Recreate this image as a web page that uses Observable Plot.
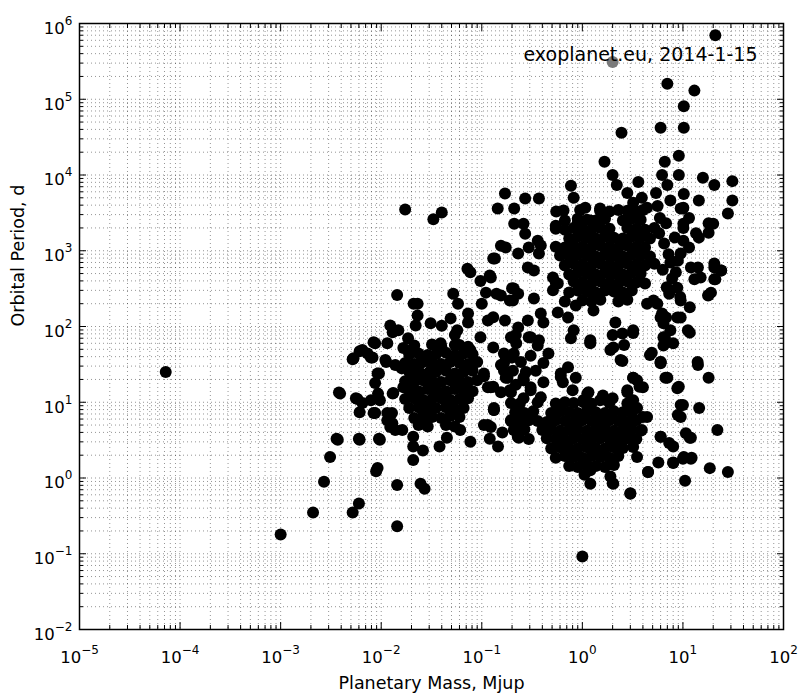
<!DOCTYPE html>
<html><head><meta charset="utf-8">
<script src="https://cdn.jsdelivr.net/npm/d3@7"></script>
<script src="https://cdn.jsdelivr.net/npm/@observablehq/plot@0.6"></script>
<style>body{margin:0;background:#fff} svg{display:block}</style>
</head><body><div id="chart"></div><script>
// [planetary mass (Mjup), orbital period (d)]
const isolatedLowMass = [[7.2e-5,25],[0.001,0.18],[0.0021,0.35],[0.0027,0.89],[0.0031,1.9],[0.0036,3.3],[0.0038,13.5],[0.006,3.3],[0.0095,3.3],[0.0089,1.23],[0.006,0.46],[0.0052,0.35],[0.0144,0.81],[0.0144,0.23],[0.0052,37],[0.0087,60],[0.0115,60],[0.0061,47],[0.0079,39],[0.0112,34],[0.0095,24],[0.0087,18],[0.0058,11],[0.0079,10.6],[0.0061,7.4],[0.0093,13],[0.013,13],[0.0097,10.6],[0.0087,7.2],[0.0115,5.8],[0.0128,7.2],[0.0138,4.3],[0.0123,4.7]];
const neptuneOutskirts = [[0.13,790],[0.072,580],[0.077,520],[0.12,470],[0.097,400],[0.20,320],[0.23,270],[0.19,220],[0.0144,260],[0.052,270],[0.11,280],[0.14,270],[0.021,200],[0.023,200],[0.058,200],[0.10,200],[0.023,140],[0.031,110],[0.022,103],[0.049,128],[0.073,148],[0.073,113],[0.115,120],[0.13,132],[0.17,120],[0.23,97],[0.0123,103],[0.0148,89],[0.013,84],[0.040,102],[0.057,89],[0.054,77],[0.097,72],[0.13,53],[0.0084,62],[0.0185,70],[0.0166,52],[0.020,49],[0.0065,49],[0.0073,44],[0.0082,39],[0.0053,38],[0.011,36],[0.0138,31],[0.016,28],[0.039,60],[0.054,57],[0.077,49],[0.166,44],[0.22,60],[0.20,39],[0.0092,24],[0.0245,33],[0.031,26],[0.021,22],[0.105,22],[0.13,16],[0.166,26],[0.26,21],[0.0039,13],[0.0056,11.3],[0.0065,9.8],[0.0132,13.2],[0.0166,15.8],[0.0084,7.2],[0.0115,7.2],[0.0129,5.3],[0.0162,4.3],[0.0208,3.5],[0.026,5.3],[0.045,3.4],[0.061,4.3],[0.077,3.0],[0.115,5.0],[0.132,7.9],[0.0037,3.2],[0.0061,3.2],[0.0097,3.2],[0.0208,2.6],[0.0208,1.73],[0.19,14.4],[0.218,7.2],[0.218,4.3],[0.233,3.4],[0.26,19.5],[0.0092,1.36],[0.0246,0.84],[0.027,0.72],[0.026,2.3],[0.038,2.6],[0.12,3.3],[0.16,4.0],[0.145,2.6],[0.0173,3500],[0.033,2600],[0.040,3200]];
const neptuneCore = [[0.0213,56],[0.032,58],[0.0395,55],[0.060,57],[0.073,54],
[0.019,43],[0.0235,44],[0.029,42],[0.035,43],[0.044,45],[0.054,42],[0.066,44],[0.081,43],
[0.0173,33],[0.0213,32],[0.026,34],[0.032,33],[0.0395,32],[0.0485,34],[0.060,33],[0.073,32],[0.090,34],
[0.019,25],[0.0235,26],[0.029,24],[0.035,25],[0.044,26],[0.054,24],[0.066,25],[0.081,26],
[0.0173,19],[0.0213,18.5],[0.026,19.5],[0.032,19],[0.0395,18.5],[0.0485,19.5],[0.060,19],[0.073,18.5],[0.090,19.5],
[0.019,14.4],[0.0235,14],[0.029,15],[0.035,14.4],[0.044,14],[0.054,15],[0.066,14.4],[0.081,14],
[0.0173,11],[0.0213,11.3],[0.026,10.8],[0.032,11],[0.0395,11.3],[0.0485,10.8],[0.060,11],[0.073,11.3],
[0.019,8.4],[0.0235,8.6],[0.029,8.2],[0.035,8.4],[0.044,8.6],[0.054,8.2],[0.066,8.4],
[0.0213,6.2],[0.026,6.6],[0.032,6.4],[0.0395,6.2],[0.0485,6.6],[0.060,6.4],
[0.0235,5.0],[0.029,4.8],[0.044,5.0],[0.054,4.8]];
const farOutliers = [[21,7e5],[7.0,1.6e5],[13,1.3e5],[10.2,8.1e4],[6.0,4.2e4],[10.2,4.2e4],[2.45,3.6e4],[9.1,1.8e4],[6.6,1.5e4],[1.66,1.5e4],[2.0,1.0e4],[6.2,1.0e4],[9.1,1.0e4],[15.8,9200],[20.5,7400],[31,8300],[31,4600],[28,3100],[14.4,4600],[3.6,8100],[2.2,7400],[7.0,7400],[5.4,5800],[10.2,5600],[5.6,3900],[9.5,3600],[11.5,2700],[18,2300],[13.5,1700],[20.5,680],[24,550],[21,420],[17.8,257],[15,445],[12,600],[8.9,740],[7.3,270],[9.5,131],[11.7,83],[6.0,131],[6.4,110],[3.2,89],[6.6,72],[8.0,60],[4.9,45],[6.0,34],[14,34],[18,21],[7.0,21],[9.1,16],[3.2,21],[3.7,16],[14.5,8.4],[9.5,9.2],[8.9,6.8],[22,4.3],[6.0,3.5],[7.3,2.9],[11.7,3.4],[12,1.8],[10,1.8],[8.0,1.6],[18.5,1.35],[28,1.2],[10.5,0.92],[4.5,1.2],[3.0,0.63],[2.0,0.85],[1.0,0.092]];
const coveredPoint = [[2.0,3.1e5]];
const coldOutskirts = [[0.77,7200],[0.17,5700],[0.27,4900],[0.37,4900],[0.82,5000],[2.8,5800],[3.9,5000],[0.144,3600],[0.21,3600],[0.65,3400],[1.07,3700],[1.5,3600],[3.2,4300],[4.4,3700],[7.5,4600],[10,3600],[0.21,2270],[0.26,2270],[0.27,1680],[0.544,2140],[0.9,2340],[1.2,2500],[0.155,1160],[0.173,1100],[0.23,920],[0.293,1100],[0.36,1360],[0.386,1170],[0.37,920],[0.135,790],[0.287,600],[0.33,548],[0.123,445],[0.208,317],[0.155,257],[0.204,220],[0.33,234],[0.51,445],[0.51,300],[0.57,370],[0.61,1000],[0.72,920],[0.9,1000],[0.86,190],[0.57,153],[0.72,131],[0.287,120],[0.386,148],[0.41,113],[0.218,77],[0.306,72],[0.37,66],[0.82,89],[1.2,66],[1.29,163],[2.13,113],[2.5,81],[4.4,200],[5.56,200],[6.2,148],[8.8,131],[7.5,89],[6.4,72],[11.2,89],[9.4,245],[8.8,325],[10.1,3700],[10.1,2270],[10.1,1360],
[20,2270],[18,1730],[14.4,1490],[11.5,1100],[10.1,2000],[9.5,920],[14.1,600],[20.5,600],[24,550],[20.5,420],[19,280],[18,260],[9.5,220],[11.7,180],[6.8,131],[13,420],[7.3,300],[5.1,220],
[5.8,1700],[6.5,1250],[7.2,900],[6.3,560],[7.8,430],[6.9,330],[8.3,1500],[5.9,2700],[6.8,2300],[7.5,700],[8.5,520]];
const coldCore = [[0.55,3300],[0.95,3450],[1.5,3370],[1.86,3300],[2.28,3450],[2.8,3370],[3.44,3300],[4.0,3450],
[0.67,2500],[0.9,2650],[1.11,2570],[1.36,2500],[1.68,2650],[2.53,2500],[3.1,2650],[3.8,2570],
[0.544,1950],[0.67,1900],[0.82,2000],[1.0,1950],[1.23,1900],[1.51,2000],[1.86,1950],[2.8,2000],[3.44,1950],[4.2,1900],[5.2,2000],
[0.74,1450],[0.9,1530],[1.11,1490],[1.36,1450],[1.68,1530],[2.06,1490],[2.53,1450],[3.1,1530],[3.8,1490],[4.7,1450],
[0.544,1130],[0.67,1100],[0.82,1160],[1.0,1130],[1.23,1100],[1.51,1160],[1.86,1130],[2.28,1100],[2.8,1160],[3.44,1130],[4.2,1100],
[0.6,866],[0.74,840],[0.9,890],[1.11,866],[1.36,840],[1.68,890],[2.06,866],[2.53,840],[3.1,890],[3.8,866],[4.7,840],
[0.67,640],[0.82,675],[1.0,658],[1.23,640],[1.51,675],[1.86,658],[2.28,640],[2.8,675],[3.44,658],[4.2,640],[5.2,675],
[0.74,485],[0.9,515],[1.11,500],[1.36,485],[1.68,515],[2.06,500],[2.53,485],[3.1,515],[3.8,500],
[0.544,381],[0.82,392],[1.0,381],[1.23,370],[1.51,392],[1.86,381],[2.28,370],[2.8,392],[3.44,381],[4.2,370],
[0.74,282],[0.9,298],[1.11,290],[1.36,282],[1.68,298],[2.06,290],[2.53,282],[3.1,298],
[0.67,214],[1.0,220],[1.23,214],[1.51,226],[2.28,214],[2.8,226]];
const hotOutskirts = [[0.195,72],[0.208,44],[0.293,72],[0.36,56],[0.173,39],[0.18,24.5],[0.123,15.8],[0.306,41],[0.46,44],[0.77,70],[1.2,62],[2.0,77],[3.2,82],[1.9,49],[2.6,57],[2.4,36],[4.7,42],[6.0,34],[0.41,33],[0.72,29],[0.61,21.5],[0.86,21],[0.26,19.5],[0.306,15.8],[0.41,18.4],[0.195,13.6],[0.26,11.3],[0.386,11.6],[0.8,14.4],[1.12,13],[1.02,10.6],[1.6,12.3],[2.0,11.3],[2.8,13.6],[3.5,19.5],[4.0,15.8],[6.7,21],[8.8,15.3],[0.132,7.9],[0.123,4.7],[0.195,5.8],[0.208,4.3],[0.228,3.5],[1.2,1.27],[1.2,0.84],[2.03,0.84],[3.0,0.62],[3.5,1.9],[4.5,1.2],[5.7,1.6],[6.0,3.5],[8.0,2.6],[8.0,1.58],[10.2,1.9],[9.5,6.4],[10,9.2],[10.7,3.9],[4.4,6.4],[3.9,4.3],[2.8,14.4],[3.2,10.6],[3.5,8.4],[4.0,6.4],[1.5,10.6],[1.41,6.4],[1.5,4.3],[2.56,3.2],[3.2,2.56],[0.166,32.6],[0.18,21],[0.105,24],[0.115,15.8],[0.132,8.4],[0.105,5.0],[0.306,14.4],[0.61,24],[0.64,18.4],[1.15,13.6],[1.03,10],[1.2,60],[2.03,53],[2.5,35],[6.4,56],[6.0,32.6],[3.2,21],[14.1,31],[12,3.4],[12.2,1.85],[1.05,1.1],[1.9,1.05],
[0.155,31],[0.204,26],[0.245,34],[0.173,21],[0.218,17],[0.274,25],[0.155,13.6],[0.344,26]];
const hotCore = [[0.195,9.8],[0.239,9.6],[0.36,10],[0.544,9.6],[0.67,10],[0.82,9.8],[1.23,9.6],[1.86,9.8],[2.8,9.6],
[0.215,7.4],[0.265,7.2],[0.325,7.6],[0.49,7.2],[0.6,7.6],[0.74,7.4],[0.9,7.2],[1.11,7.6],[1.36,7.4],[1.68,7.2],[2.06,7.6],[2.53,7.4],[3.1,7.2],
[0.195,5.65],[0.239,5.5],[0.293,5.8],[0.36,5.65],[0.443,5.5],[0.544,5.8],[0.67,5.65],[0.82,5.5],[1.0,5.8],[1.23,5.65],[1.51,5.5],[1.86,5.8],[2.28,5.65],[2.8,5.5],[3.44,5.8],
[0.215,4.3],[0.265,4.4],[0.4,4.3],[0.49,4.4],[0.6,4.2],[0.74,4.3],[0.9,4.4],[1.11,4.2],[1.36,4.3],[1.68,4.4],[2.06,4.2],[2.53,4.3],[3.1,4.4],[3.8,4.2],
[0.293,3.27],[0.443,3.35],[0.544,3.27],[0.67,3.2],[0.82,3.35],[1.0,3.27],[1.23,3.2],[1.51,3.35],[1.86,3.27],[2.28,3.2],[2.8,3.35],[3.44,3.27],
[0.49,2.45],[0.6,2.55],[0.74,2.49],[0.9,2.45],[1.11,2.55],[1.36,2.49],[1.68,2.45],[2.06,2.55],[2.53,2.49],
[0.544,1.85],[0.67,1.95],[0.82,1.9],[1.0,1.85],[1.23,1.95],[1.51,1.9],[1.86,1.85],[2.28,1.95],
[0.74,1.44],[0.9,1.4],[1.11,1.48],[1.36,1.44],[1.68,1.4],[2.06,1.48]];

const xExponents = [-5,-4,-3,-2,-1,0,1,2];
const yExponents = [-2,-1,0,1,2,3,4,5,6];
const minorSteps = [2,3,4,5,6,7,8,9];
const annotation = "exoplanet.eu, 2014-1-15";
const xLabel = "Planetary Mass, Mjup";
const yLabel = "Orbital Period, d";

const majorX = xExponents.map(e => 10 ** e);
const majorY = yExponents.map(e => 10 ** e);
const minorX = xExponents.slice(0, -1).flatMap(e => minorSteps.map(s => s * 10 ** e));
const minorY = yExponents.slice(0, -1).flatMap(e => minorSteps.map(s => s * 10 ** e));

const toRows = arr => arr.map(([m, p]) => ({m, p}));
const planets = toRows([...isolatedLowMass, ...neptuneOutskirts, ...neptuneCore, ...farOutliers,
  ...coldOutskirts, ...coldCore, ...hotOutskirts, ...hotCore]);
const covered = toRows(coveredPoint);

const fmt = d => "10^" + Math.round(Math.log10(d));
const font = "DejaVu Sans";
const grid = {stroke: "#000", strokeOpacity: 0.42, strokeDasharray: "1,3", strokeWidth: 1};
const blank = () => "";

const chart = Plot.plot({
  width: 801, height: 694,
  marginLeft: 79, marginRight: 18, marginTop: 23, marginBottom: 65,
  style: {fontFamily: font, background: "#fff", color: "#000"},
  x: {type: "log", domain: [1e-5, 1e2], label: null},
  y: {type: "log", domain: [1e-2, 1e6], label: null},
  marks: [
    Plot.gridX({ticks: [...majorX, ...minorX], ...grid}),
    Plot.gridY({ticks: [...majorY, ...minorY], ...grid}),
    Plot.dot(planets, {x: "m", y: "p", r: 6, fill: "#000", stroke: null}),
    Plot.dot(covered, {x: "m", y: "p", r: 6, fill: "#7a7a7a", stroke: null}),
    Plot.text([annotation], {frameAnchor: "top-right", textAnchor: "end", lineAnchor: "middle", dx: -26, dy: 31,
      fontSize: 19, fill: "#000"}),
    Plot.frame({stroke: "#000", strokeWidth: 1.5}),
    // inward major / minor ticks on all four sides
    Plot.axisX({anchor: "bottom", ticks: majorX, tickSize: -7, tickFormat: blank, label: null}),
    Plot.axisX({anchor: "bottom", ticks: minorX, tickSize: -4, tickFormat: blank, label: null}),
    Plot.axisX({anchor: "top", ticks: majorX, tickSize: -7, tickFormat: blank, label: null}),
    Plot.axisX({anchor: "top", ticks: minorX, tickSize: -4, tickFormat: blank, label: null}),
    Plot.axisY({anchor: "left", ticks: majorY, tickSize: -7, tickFormat: blank, label: null}),
    Plot.axisY({anchor: "left", ticks: minorY, tickSize: -4, tickFormat: blank, label: null}),
    Plot.axisY({anchor: "right", ticks: majorY, tickSize: -7, tickFormat: blank, label: null}),
    Plot.axisY({anchor: "right", ticks: minorY, tickSize: -4, tickFormat: blank, label: null}),
    // tick labels
    Plot.axisX({anchor: "bottom", ticks: majorX, tickSize: 0, tickPadding: 22, tickFormat: fmt, fontSize: 16.5, label: null}),
    Plot.axisY({anchor: "left", ticks: majorY, tickSize: 0, tickPadding: 7, tickFormat: fmt, fontSize: 16.5, dy: 5, label: null}),
    Plot.text([xLabel], {frameAnchor: "bottom", lineAnchor: "middle", dy: 54, fontSize: 17.5, fill: "#000"}),
    Plot.text([yLabel], {frameAnchor: "left", lineAnchor: "middle", rotate: -90, dx: -61, fontSize: 17.5, fill: "#000"})
  ]
});

// render "10^e" as 10 with a superscript exponent
chart.querySelectorAll("text").forEach(t => {
  const m = /^10\^(-?\d+)$/.exec(t.textContent);
  if (!m) return;
  t.textContent = "";
  const ns = "http://www.w3.org/2000/svg";
  const base = document.createElementNS(ns, "tspan");
  base.textContent = "10";
  const sup = document.createElementNS(ns, "tspan");
  sup.textContent = m[1].replace("-", "\u2212");
  sup.setAttribute("dy", "-9");
  sup.setAttribute("font-size", "12");
  t.appendChild(base);
  t.appendChild(sup);
});
document.getElementById("chart").appendChild(chart);
</script></body></html>
